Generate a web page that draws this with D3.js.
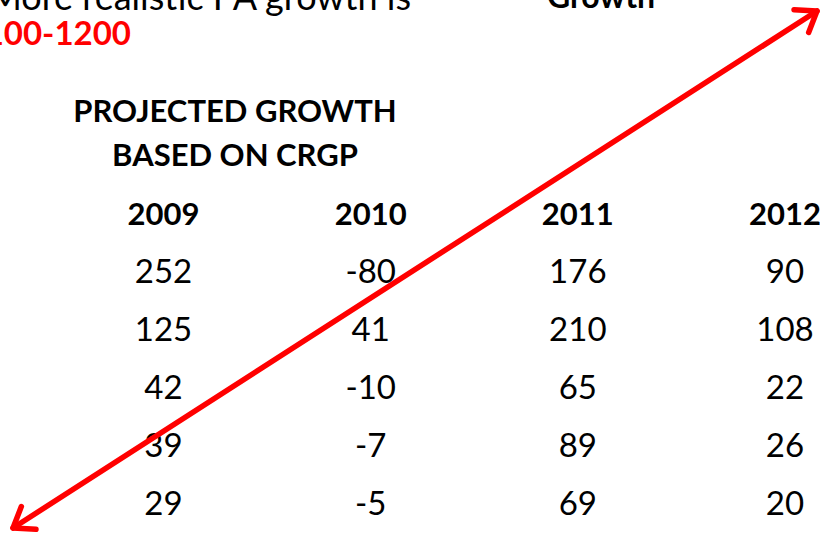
<!DOCTYPE html>
<html>
<head>
<meta charset="utf-8">
<script src="https://cdn.jsdelivr.net/npm/d3@7"></script>
<style>
  html, body { margin: 0; padding: 0; background: #fff; }
  svg { display: block; font-family: Lato, "Open Sans", sans-serif; }
</style>
</head>
<body>
<svg id="chart" width="820" height="533"></svg>
<script>
// ---- data ----
const years = ["2009", "2010", "2011", "2012"];
const rowIndex = [0, 1, 2, 3, 4];
const growth2009 = [252, 125, 42, 39, 29];
const growth2010 = [-80, 41, -10, -7, -5];
const growth2011 = [176, 210, 65, 89, 69];
const growth2012 = [90, 108, 22, 26, 20];
const seriesByYear = [growth2009, growth2010, growth2011, growth2012];
const tableTitle = ["PROJECTED GROWTH", "BASED ON CRGP"];
const topText = "More realistic PA growth is";
const rangeText = "1100-1200";
const headingText = "Growth";

// ---- layout ----
const svg = d3.select("#chart");

const x = d3.scalePoint().domain(years).range([163.5, 785]);
const y = d3.scalePoint().domain(rowIndex).range([283, 515]);

// top (cut-off) slide text
svg.append("text")
  .attr("x", 411).attr("y", 10)
  .attr("text-anchor", "end")
  .attr("font-size", 36)
  .attr("fill", "#000")
  .text(topText);

svg.append("text")
  .attr("x", 131).attr("y", 45)
  .attr("text-anchor", "end")
  .attr("font-size", 33)
  .attr("font-weight", "bold")
  .attr("fill", "#ff0000")
  .text(rangeText);

svg.append("text")
  .attr("x", 601).attr("y", 8)
  .attr("text-anchor", "middle")
  .attr("font-size", 32)
  .attr("font-weight", "bold")
  .attr("fill", "#000")
  .text(headingText);

// table title
svg.selectAll("text.title")
  .data(tableTitle)
  .join("text")
  .attr("class", "title")
  .attr("x", 235)
  .attr("y", (d, i) => 122 + i * 44)
  .attr("text-anchor", "middle")
  .attr("font-size", 31)
  .attr("font-weight", "bold")
  .attr("fill", "#000")
  .text(d => d);

// column headers
svg.selectAll("text.year")
  .data(years)
  .join("text")
  .attr("class", "year")
  .attr("x", d => x(d))
  .attr("y", 225)
  .attr("text-anchor", "middle")
  .attr("font-size", 31)
  .attr("font-weight", "bold")
  .attr("fill", "#000")
  .text(d => d);

// cells
const cells = [];
years.forEach((yr, c) => seriesByYear[c].forEach((v, r) => cells.push({ yr, r, v })));
svg.selectAll("text.cell")
  .data(cells)
  .join("text")
  .attr("class", "cell")
  .attr("x", d => x(d.yr))
  .attr("y", d => y(d.r))
  .attr("text-anchor", "middle")
  .attr("font-size", 33)
  .attr("fill", "#000")
  .text(d => d.v);

// double-headed red arrow
const p0 = [13, 528], p1 = [817, 11];
svg.append("line")
  .attr("x1", p0[0]).attr("y1", p0[1])
  .attr("x2", p1[0]).attr("y2", p1[1])
  .attr("stroke", "#ff0000")
  .attr("stroke-width", 5.5)
  .attr("stroke-linecap", "round");

function head(tip, from) {
  const ang = Math.atan2(from[1] - tip[1], from[0] - tip[0]);
  const len = 23, spread = Math.PI / 5;
  const a = [tip[0] + len * Math.cos(ang - spread), tip[1] + len * Math.sin(ang - spread)];
  const b = [tip[0] + len * Math.cos(ang + spread), tip[1] + len * Math.sin(ang + spread)];
  svg.append("path")
    .attr("d", d3.line()([a, tip, b]))
    .attr("fill", "none")
    .attr("stroke", "#ff0000")
    .attr("stroke-width", 5.5)
    .attr("stroke-linecap", "round")
    .attr("stroke-linejoin", "round");
}
head(p1, p0);
head(p0, p1);
</script>
</body>
</html>
